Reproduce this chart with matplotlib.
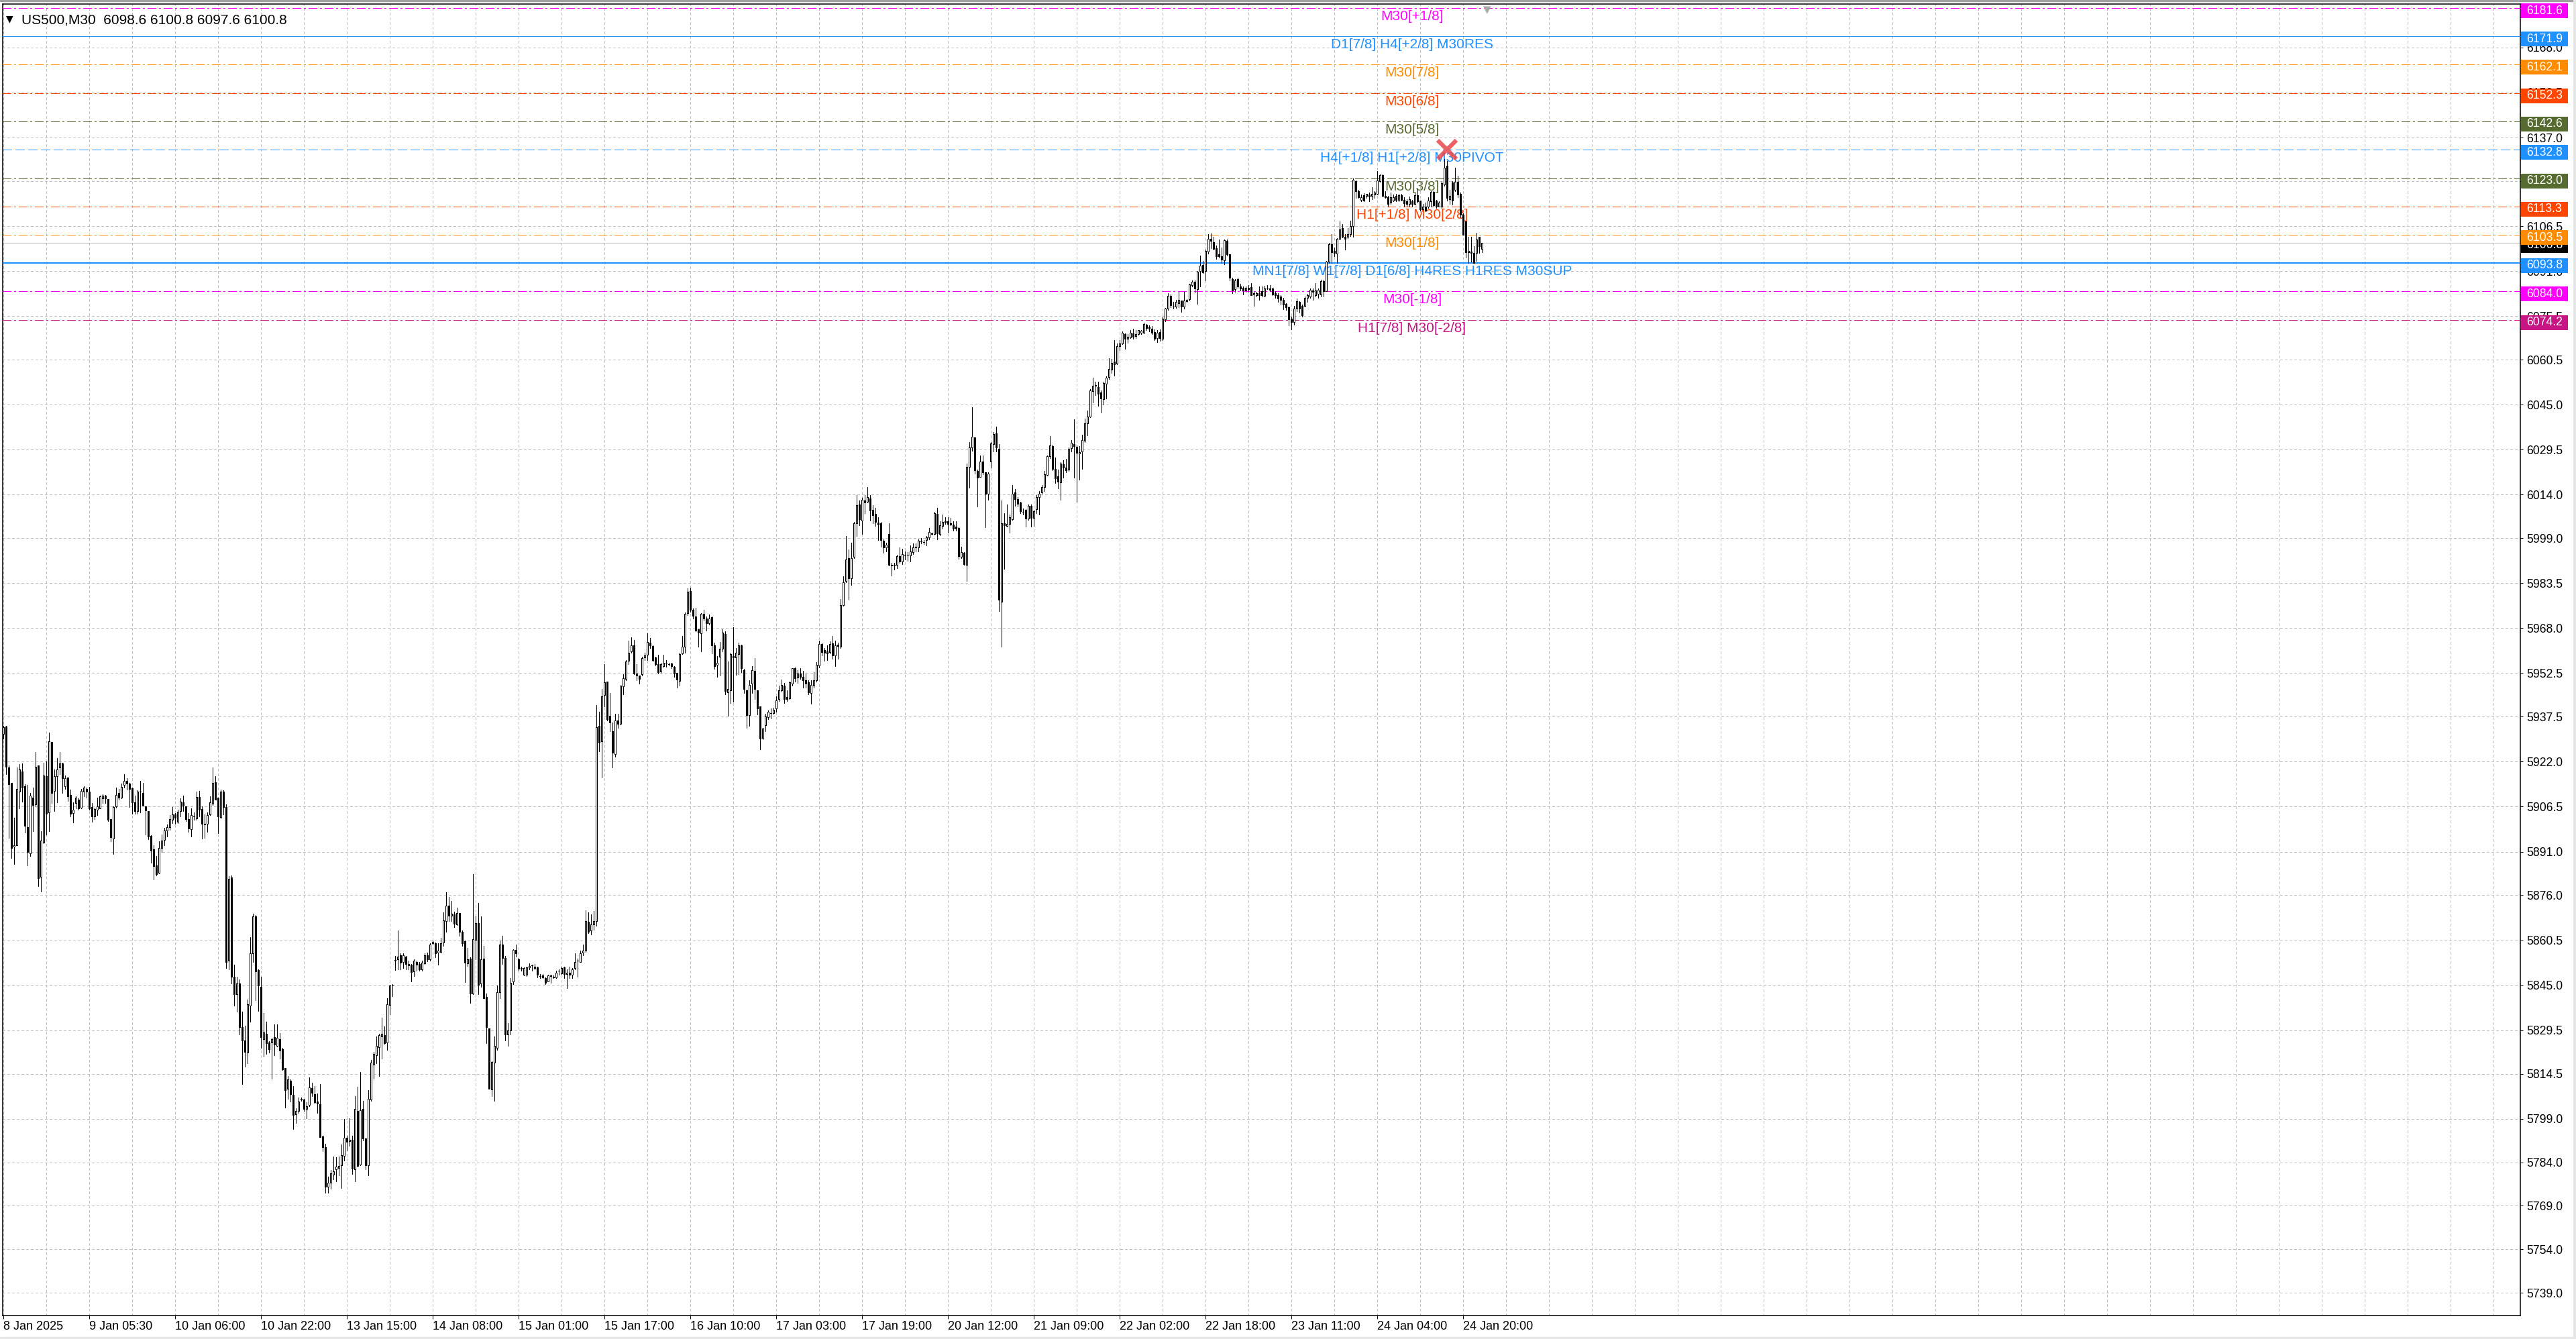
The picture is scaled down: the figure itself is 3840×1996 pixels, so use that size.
import numpy as np
import matplotlib
matplotlib.use('Agg')
import matplotlib.pyplot as plt
from matplotlib.patches import Rectangle
from matplotlib.transforms import blended_transform_factory

plt.rcParams['lines.scale_dashes'] = False

# ---- data (US500, M30 candles) ----
opens = [
    5931.6, 5934.1, 5920.0, 5914.8, 5892.7, 5893.3, 5911.6, 5918.6, 5913.6, 5899.4,
    5890.4, 5909.6, 5907.2, 5920.8, 5882.3, 5894.2, 5917.0, 5904.5, 5928.7, 5911.9,
    5917.0, 5920.0, 5921.4, 5913.5, 5916.5, 5910.6, 5904.2, 5907.7, 5909.0, 5906.2,
    5911.6, 5912.7, 5911.7, 5906.4, 5903.2, 5905.4, 5906.0, 5909.4, 5910.2, 5909.1,
    5902.3, 5895.5, 5906.7, 5911.2, 5909.5, 5913.9, 5915.4, 5914.5, 5912.9, 5908.1,
    5905.0, 5911.6, 5911.2, 5906.7, 5904.9, 5896.4, 5891.7, 5886.3, 5883.8, 5892.3,
    5895.0, 5898.2, 5899.4, 5901.9, 5903.9, 5901.2, 5904.9, 5908.1, 5906.7, 5902.1,
    5898.7, 5903.1, 5902.5, 5909.8, 5905.6, 5900.4, 5900.6, 5903.9, 5907.5, 5915.0,
    5909.5, 5902.9, 5911.6, 5906.3, 5853.5, 5882.0, 5848.0, 5842.0, 5845.5, 5830.5,
    5826.0, 5821.8, 5837.9, 5856.0, 5868.8, 5850.2, 5844.4, 5826.5, 5828.3, 5825.3,
    5825.3, 5827.0, 5824.0, 5826.5, 5823.0, 5816.4, 5809.4, 5812.2, 5807.2, 5800.6,
    5801.6, 5805.5, 5805.5, 5802.4, 5803.7, 5809.5, 5807.5, 5805.0, 5803.9, 5792.8,
    5789.3, 5775.5, 5777.0, 5779.8, 5781.5, 5782.0, 5783.0, 5786.3, 5792.4, 5791.3,
    5791.8, 5781.5, 5801.8, 5783.1, 5802.4, 5792.1, 5783.0, 5805.5, 5817.6, 5820.8,
    5823.6, 5827.3, 5827.8, 5825.3, 5838.1, 5844.9, 5853.5, 5853.8, 5855.3, 5853.0,
    5854.8, 5851.8, 5852.0, 5849.8, 5853.0, 5852.3, 5850.5, 5852.5, 5855.3, 5854.0,
    5859.5, 5859.4, 5856.2, 5856.5, 5859.8, 5867.1, 5872.3, 5868.9, 5869.3, 5865.9,
    5869.8, 5863.3, 5860.2, 5852.5, 5854.2, 5842.1, 5860.6, 5866.3, 5845.7, 5854.2,
    5840.9, 5830.0, 5809.0, 5818.3, 5823.3, 5842.6, 5859.1, 5854.4, 5828.0, 5829.5,
    5846.2, 5857.1, 5853.9, 5850.9, 5848.7, 5848.6, 5851.2, 5851.9, 5851.4, 5851.1,
    5848.1, 5848.4, 5847.4, 5846.4, 5848.1, 5847.9, 5847.7, 5849.9, 5849.1, 5851.1,
    5848.9, 5849.4, 5848.7, 5850.9, 5853.4, 5853.1, 5856.2, 5856.9, 5866.8, 5863.9,
    5866.0, 5867.2, 5934.3, 5929.1, 5944.9, 5949.6, 5937.9, 5932.6, 5924.6, 5936.1,
    5935.1, 5947.9, 5950.4, 5956.8, 5959.9, 5962.1, 5952.3, 5951.6, 5952.1, 5957.9,
    5958.9, 5963.1, 5961.9, 5957.8, 5955.6, 5953.1, 5954.8, 5955.8, 5955.6, 5955.9,
    5954.6, 5952.6, 5949.9, 5959.3, 5961.6, 5973.2, 5980.7, 5974.4, 5971.9, 5967.5,
    5966.2, 5973.0, 5971.4, 5969.7, 5971.7, 5962.1, 5955.3, 5958.1, 5960.8, 5965.9,
    5945.8, 5946.6, 5958.4, 5957.9, 5959.1, 5962.1, 5953.6, 5946.6, 5938.1, 5948.8,
    5953.2, 5946.6, 5941.1, 5930.2, 5934.6, 5937.3, 5938.7, 5938.8, 5940.4, 5943.5,
    5946.6, 5948.3, 5944.2, 5943.9, 5949.0, 5954.3, 5951.0, 5952.3, 5951.2, 5950.1,
    5949.4, 5945.7, 5948.3, 5950.1, 5955.2, 5962.5, 5960.5, 5960.0, 5959.8, 5962.8,
    5958.5, 5962.3, 5961.6, 5975.9, 5984.2, 5992.0, 5985.1, 5992.6, 6004.1, 6010.7,
    6005.0, 6012.0, 6011.6, 6012.7, 6008.7, 6007.4, 6004.3, 6004.1, 5998.1, 5995.7,
    6000.5, 5989.9, 5989.9, 5989.9, 5992.7, 5991.0, 5993.0, 5993.3, 5993.0, 5994.3,
    5995.7, 5995.9, 5997.9, 5997.7, 5998.3, 5999.2, 6000.5, 6000.4, 6007.4, 6000.5,
    6003.2, 6004.8, 6004.8, 6004.1, 6003.6, 6002.9, 6002.5, 5992.6, 5993.9, 5989.7,
    6023.6, 6030.2, 6033.7, 6022.2, 6020.0, 6025.5, 6021.6, 6014.3, 6025.3, 6031.5,
    6035.1, 6029.7, 5977.1, 6004.2, 6003.2, 6003.9, 6005.4, 6014.7, 6012.5, 6011.2,
    6007.9, 6008.7, 6005.7, 6010.2, 6005.9, 6008.9, 6013.2, 6014.7, 6016.7, 6020.7,
    6027.2, 6030.7, 6022.9, 6020.2, 6018.2, 6024.5, 6023.4, 6022.7, 6029.9, 6031.4,
    6030.5, 6028.2, 6028.9, 6032.5, 6038.5, 6040.9, 6049.6, 6051.6, 6051.1, 6049.3,
    6046.8, 6052.3, 6054.5, 6057.0, 6059.8, 6059.1, 6065.1, 6066.0, 6069.3, 6067.6,
    6068.1, 6069.6, 6068.6, 6069.3, 6069.8, 6069.8, 6072.6, 6071.8, 6071.1, 6070.0,
    6068.0, 6070.0, 6067.6, 6074.3, 6078.0, 6082.5, 6078.8, 6078.8, 6080.0, 6080.8,
    6078.8, 6080.6, 6081.3, 6086.1, 6087.3, 6084.8, 6091.1, 6093.1, 6091.1, 6097.7,
    6102.1, 6100.9, 6098.9, 6096.9, 6096.1, 6094.7, 6101.4, 6096.7, 6088.3, 6084.8,
    6088.3, 6085.8, 6085.3, 6084.3, 6085.3, 6085.5, 6083.0, 6082.8, 6083.4, 6084.2,
    6082.5, 6085.3, 6085.1, 6085.1, 6083.4, 6082.8, 6082.2, 6081.2, 6079.7, 6078.6,
    6074.5, 6073.5, 6078.0, 6080.5, 6079.1, 6079.1, 6081.7, 6082.2, 6084.3, 6082.6,
    6083.2, 6083.0, 6087.6, 6084.2, 6094.2, 6100.2, 6097.9, 6097.1, 6102.0, 6105.7,
    6102.7, 6102.7, 6103.8, 6106.4, 6122.1, 6118.5, 6115.6, 6117.2, 6116.9, 6117.3,
    6116.9, 6117.3, 6117.7, 6122.1, 6124.1, 6116.9, 6116.5, 6114.6, 6115.4, 6116.9,
    6115.6, 6117.2, 6115.6, 6115.0, 6114.2, 6115.0, 6114.2, 6117.2, 6115.2, 6112.3,
    6113.3, 6113.1, 6115.0, 6118.2, 6115.4, 6113.3, 6113.3, 6120.8, 6127.2, 6115.8,
    6121.5, 6118.9, 6121.8, 6117.7, 6110.4, 6108.1, 6097.4, 6097.7, 6097.3, 6097.3,
    6102.7, 6098.6,
]
highs = [
    5934.3, 5934.3, 5920.8, 5914.8, 5902.7, 5920.0, 5921.2, 5921.4, 5914.3, 5914.0,
    5911.2, 5913.1, 5925.4, 5920.8, 5898.1, 5921.6, 5922.0, 5932.0, 5928.7, 5919.3,
    5923.3, 5925.4, 5921.6, 5917.3, 5916.6, 5912.3, 5908.1, 5910.0, 5909.3, 5912.7,
    5913.5, 5913.1, 5913.3, 5907.7, 5906.2, 5909.6, 5910.4, 5910.8, 5910.6, 5909.1,
    5902.3, 5906.6, 5913.1, 5912.7, 5914.5, 5917.7, 5916.2, 5914.6, 5913.1, 5910.2,
    5912.2, 5915.4, 5914.8, 5906.7, 5905.0, 5896.6, 5893.1, 5889.4, 5894.6, 5896.9,
    5899.2, 5900.4, 5903.5, 5906.4, 5904.2, 5905.4, 5909.3, 5910.4, 5906.7, 5904.2,
    5905.9, 5904.6, 5911.7, 5911.9, 5906.6, 5903.9, 5904.6, 5910.0, 5920.0, 5917.1,
    5909.5, 5912.3, 5912.2, 5907.3, 5882.5, 5882.7, 5852.0, 5848.0, 5847.0, 5836.0,
    5831.0, 5840.0, 5861.6, 5869.6, 5869.1, 5850.5, 5848.0, 5835.4, 5832.4, 5825.8,
    5826.8, 5831.6, 5831.6, 5828.6, 5823.3, 5816.4, 5813.7, 5812.5, 5810.2, 5802.6,
    5806.2, 5806.2, 5805.9, 5804.7, 5813.2, 5811.5, 5810.2, 5807.7, 5810.9, 5793.1,
    5790.3, 5779.0, 5781.3, 5786.0, 5785.8, 5786.0, 5790.1, 5798.8, 5793.1, 5799.1,
    5793.1, 5806.7, 5809.9, 5815.0, 5805.2, 5792.1, 5808.9, 5819.3, 5822.0, 5827.3,
    5828.3, 5833.7, 5830.8, 5840.4, 5845.1, 5845.4, 5855.0, 5863.9, 5856.0, 5856.0,
    5855.0, 5853.5, 5852.2, 5853.8, 5853.5, 5853.0, 5853.5, 5856.0, 5856.2, 5859.4,
    5860.5, 5859.8, 5859.5, 5861.4, 5870.1, 5877.0, 5875.4, 5874.1, 5870.3, 5871.6,
    5869.8, 5863.9, 5860.5, 5857.8, 5854.5, 5883.2, 5868.6, 5873.3, 5868.6, 5858.5,
    5842.1, 5830.0, 5818.8, 5827.3, 5844.9, 5860.5, 5862.1, 5855.0, 5832.0, 5847.4,
    5857.4, 5859.1, 5854.4, 5851.4, 5851.1, 5851.4, 5852.6, 5852.1, 5852.4, 5851.4,
    5848.9, 5848.9, 5847.6, 5848.6, 5848.6, 5848.4, 5849.9, 5850.4, 5851.4, 5851.4,
    5850.4, 5851.4, 5850.9, 5855.9, 5854.1, 5856.9, 5858.9, 5870.7, 5870.0, 5869.5,
    5870.5, 5941.6, 5939.3, 5947.1, 5955.6, 5949.6, 5945.6, 5935.6, 5938.6, 5938.6,
    5948.1, 5952.1, 5957.1, 5963.6, 5964.9, 5963.9, 5955.6, 5951.6, 5958.1, 5959.6,
    5966.2, 5964.6, 5962.1, 5958.1, 5958.9, 5956.1, 5958.9, 5956.9, 5956.1, 5956.1,
    5954.9, 5952.6, 5959.6, 5965.4, 5973.4, 5981.7, 5982.0, 5974.7, 5975.0, 5967.7,
    5973.2, 5974.4, 5971.9, 5972.7, 5971.9, 5963.1, 5958.3, 5963.3, 5967.7, 5967.0,
    5956.6, 5959.6, 5968.2, 5961.1, 5962.9, 5962.3, 5953.9, 5946.9, 5950.1, 5955.0,
    5957.6, 5946.7, 5941.1, 5933.7, 5938.4, 5939.7, 5940.4, 5940.5, 5944.6, 5948.3,
    5950.3, 5949.2, 5946.6, 5949.7, 5954.3, 5954.5, 5953.6, 5954.3, 5953.2, 5952.3,
    5950.1, 5950.1, 5952.8, 5956.3, 5963.8, 5962.7, 5961.2, 5962.0, 5963.4, 5965.3,
    5963.6, 5962.9, 5978.0, 5985.9, 5999.8, 5995.1, 5997.4, 6004.5, 6013.8, 6012.0,
    6012.9, 6013.8, 6016.5, 6013.8, 6010.3, 6009.4, 6006.3, 6004.5, 5998.6, 5997.4,
    6004.1, 5990.4, 5990.4, 5993.3, 5995.9, 5995.4, 5994.5, 5994.2, 5996.6, 5997.2,
    5997.2, 5998.6, 5999.0, 5998.3, 5999.8, 6002.5, 6001.0, 6008.1, 6009.4, 6004.8,
    6007.2, 6006.3, 6006.3, 6006.0, 6004.8, 6004.8, 6002.8, 5996.1, 5994.2, 6024.6,
    6032.0, 6044.1, 6033.7, 6022.7, 6027.5, 6027.5, 6021.8, 6021.8, 6032.0, 6035.5,
    6037.3, 6031.5, 6011.9, 6007.7, 6010.5, 6007.2, 6017.2, 6015.9, 6013.2, 6011.5,
    6009.2, 6008.9, 6010.5, 6010.7, 6008.7, 6013.9, 6015.2, 6017.2, 6022.2, 6027.5,
    6034.2, 6031.2, 6026.7, 6022.7, 6025.2, 6025.9, 6026.2, 6030.2, 6032.7, 6039.9,
    6030.9, 6030.7, 6034.7, 6040.2, 6042.9, 6050.3, 6054.3, 6053.0, 6053.0, 6049.8,
    6053.0, 6054.8, 6061.0, 6060.8, 6067.3, 6066.0, 6067.3, 6070.3, 6069.6, 6069.3,
    6070.8, 6071.1, 6070.8, 6070.8, 6070.8, 6073.3, 6072.8, 6072.3, 6072.0, 6071.0,
    6070.8, 6071.0, 6075.3, 6078.3, 6083.3, 6083.0, 6080.3, 6081.0, 6083.8, 6080.8,
    6083.8, 6081.3, 6086.6, 6087.8, 6087.8, 6091.0, 6096.4, 6094.4, 6098.4, 6103.7,
    6103.9, 6102.7, 6099.9, 6101.9, 6099.1, 6101.9, 6101.9, 6096.7, 6088.6, 6088.3,
    6088.8, 6086.6, 6085.8, 6085.8, 6086.1, 6086.9, 6083.8, 6083.8, 6085.7, 6085.7,
    6085.9, 6086.1, 6086.1, 6085.3, 6084.2, 6083.4, 6082.6, 6081.8, 6079.9, 6078.8,
    6075.3, 6079.1, 6081.5, 6080.7, 6079.5, 6082.2, 6083.2, 6084.9, 6084.9, 6086.9,
    6084.9, 6088.0, 6088.0, 6094.6, 6100.7, 6103.8, 6099.2, 6102.3, 6108.1, 6107.3,
    6103.8, 6105.7, 6108.4, 6122.9, 6122.3, 6118.9, 6117.3, 6117.9, 6117.7, 6118.1,
    6120.0, 6118.5, 6125.4, 6124.4, 6124.4, 6118.5, 6116.9, 6118.1, 6117.3, 6117.7,
    6117.7, 6117.7, 6116.4, 6115.8, 6116.7, 6115.6, 6118.1, 6119.2, 6115.4, 6114.1,
    6114.6, 6116.4, 6118.5, 6118.5, 6115.6, 6115.1, 6121.9, 6129.6, 6128.9, 6118.9,
    6121.9, 6126.7, 6123.9, 6118.1, 6110.8, 6108.2, 6102.8, 6102.7, 6099.6, 6104.2,
    6102.8, 6100.8,
]
lows = [
    5930.0, 5917.7, 5895.8, 5888.8, 5886.8, 5893.1, 5906.0, 5908.3, 5897.7, 5886.2,
    5889.6, 5898.1, 5906.6, 5879.2, 5877.3, 5894.0, 5896.8, 5898.1, 5907.7, 5905.0,
    5908.1, 5917.7, 5911.2, 5912.7, 5908.5, 5903.1, 5901.0, 5905.8, 5905.4, 5905.8,
    5910.0, 5909.5, 5905.4, 5901.4, 5902.1, 5903.5, 5905.8, 5907.7, 5907.7, 5901.6,
    5894.6, 5890.2, 5906.2, 5908.9, 5909.3, 5913.1, 5912.3, 5906.4, 5904.0, 5904.0,
    5904.0, 5904.6, 5906.8, 5896.8, 5895.2, 5887.3, 5881.4, 5882.9, 5883.5, 5890.8,
    5893.2, 5896.3, 5898.5, 5900.8, 5900.6, 5900.8, 5903.1, 5905.0, 5901.6, 5897.9,
    5896.2, 5901.9, 5901.9, 5903.1, 5895.4, 5895.8, 5897.9, 5903.5, 5907.1, 5908.9,
    5897.3, 5902.5, 5903.9, 5851.0, 5850.5, 5845.5, 5838.0, 5836.0, 5828.0, 5811.0,
    5817.0, 5818.0, 5832.4, 5853.0, 5839.9, 5836.1, 5823.3, 5820.3, 5821.3, 5821.8,
    5812.7, 5820.8, 5823.8, 5819.8, 5815.7, 5802.9, 5805.9, 5804.9, 5795.4, 5797.6,
    5801.1, 5805.2, 5801.8, 5799.1, 5803.2, 5806.7, 5804.2, 5801.1, 5792.6, 5787.8,
    5773.4, 5773.6, 5774.8, 5778.0, 5777.5, 5779.5, 5775.0, 5784.5, 5788.1, 5789.6,
    5780.0, 5777.5, 5782.5, 5782.9, 5791.6, 5781.5, 5779.5, 5805.2, 5812.7, 5818.0,
    5813.7, 5819.8, 5824.8, 5822.8, 5834.9, 5841.1, 5850.2, 5850.5, 5850.5, 5851.0,
    5850.5, 5850.5, 5846.2, 5848.2, 5850.0, 5850.0, 5850.0, 5852.2, 5853.2, 5853.5,
    5859.0, 5854.5, 5852.0, 5856.2, 5858.5, 5863.3, 5867.1, 5867.1, 5865.1, 5865.6,
    5861.9, 5858.5, 5846.0, 5851.5, 5838.9, 5841.9, 5854.0, 5841.9, 5844.4, 5840.4,
    5825.0, 5809.2, 5806.7, 5805.2, 5822.6, 5840.6, 5852.4, 5826.0, 5824.0, 5828.0,
    5845.4, 5854.9, 5849.9, 5849.9, 5848.4, 5848.2, 5850.4, 5849.9, 5850.4, 5847.7,
    5847.4, 5847.4, 5845.4, 5846.2, 5845.9, 5847.4, 5847.4, 5848.7, 5848.9, 5847.4,
    5843.9, 5847.4, 5847.4, 5850.4, 5847.9, 5852.9, 5855.4, 5856.4, 5863.0, 5862.4,
    5864.0, 5865.4, 5925.6, 5916.6, 5941.1, 5936.1, 5932.6, 5920.1, 5923.6, 5933.6,
    5934.9, 5945.1, 5950.1, 5955.6, 5959.6, 5952.1, 5950.1, 5948.9, 5951.6, 5957.1,
    5957.1, 5961.1, 5956.6, 5955.1, 5952.3, 5952.6, 5954.6, 5954.6, 5955.1, 5954.1,
    5951.1, 5947.6, 5948.3, 5959.1, 5959.6, 5972.4, 5973.7, 5971.2, 5967.0, 5961.6,
    5959.9, 5970.7, 5967.2, 5969.2, 5959.3, 5953.9, 5951.3, 5951.6, 5960.1, 5945.1,
    5937.9, 5942.1, 5942.6, 5951.9, 5952.1, 5952.9, 5945.6, 5933.6, 5934.3, 5945.7,
    5943.5, 5938.2, 5926.2, 5929.7, 5932.6, 5936.6, 5936.8, 5938.4, 5939.3, 5943.0,
    5946.1, 5942.3, 5942.8, 5943.5, 5948.3, 5949.6, 5949.2, 5950.5, 5947.6, 5947.4,
    5945.2, 5942.0, 5947.4, 5949.7, 5954.5, 5958.5, 5956.7, 5957.0, 5959.4, 5957.4,
    5955.0, 5957.4, 5961.2, 5975.8, 5983.7, 5978.0, 5982.8, 5992.1, 5999.7, 6003.4,
    6000.5, 6007.6, 6011.2, 6005.0, 6004.1, 6003.2, 5998.3, 5996.1, 5993.9, 5994.4,
    5989.5, 5986.2, 5988.2, 5988.6, 5990.6, 5990.1, 5991.7, 5991.2, 5991.0, 5993.5,
    5994.5, 5994.5, 5997.2, 5997.0, 5996.6, 5998.6, 6000.1, 6000.1, 5998.5, 6000.0,
    6002.3, 6003.9, 6001.0, 6003.4, 6001.6, 6001.6, 5991.9, 5992.1, 5989.9, 5984.2,
    6016.3, 6029.0, 6021.3, 6009.8, 6020.0, 6020.9, 6002.7, 6012.2, 6023.4, 6028.9,
    6028.9, 5973.8, 5961.6, 5988.4, 6002.9, 6000.9, 6005.2, 6010.2, 6009.9, 6007.5,
    6007.2, 6002.9, 6005.2, 6002.9, 6003.2, 6007.5, 6007.2, 6014.2, 6015.2, 6020.5,
    6026.5, 6022.5, 6017.9, 6016.2, 6012.2, 6019.9, 6021.7, 6022.2, 6028.9, 6019.9,
    6011.5, 6019.2, 6022.9, 6032.2, 6034.5, 6040.7, 6045.8, 6048.3, 6044.5, 6042.3,
    6045.1, 6047.0, 6053.8, 6055.8, 6055.0, 6058.8, 6063.8, 6065.8, 6064.3, 6066.3,
    6067.8, 6067.6, 6068.0, 6069.0, 6069.3, 6069.6, 6070.8, 6070.3, 6069.3, 6067.3,
    6066.6, 6067.0, 6067.3, 6073.8, 6077.6, 6078.6, 6078.0, 6078.3, 6078.6, 6077.0,
    6078.0, 6080.3, 6080.8, 6085.8, 6083.6, 6079.8, 6085.8, 6090.3, 6087.8, 6097.1,
    6098.9, 6098.4, 6095.1, 6095.6, 6093.7, 6093.4, 6096.4, 6087.8, 6083.3, 6083.8,
    6085.3, 6084.3, 6083.0, 6083.8, 6083.8, 6082.6, 6079.1, 6082.2, 6081.1, 6082.2,
    6082.2, 6084.8, 6084.2, 6082.6, 6081.8, 6080.5, 6079.5, 6077.8, 6077.6, 6072.2,
    6071.0, 6072.6, 6077.2, 6076.8, 6075.3, 6078.8, 6080.3, 6081.7, 6081.1, 6082.2,
    6081.8, 6082.2, 6082.2, 6084.2, 6093.8, 6093.8, 6096.1, 6093.8, 6101.9, 6102.5,
    6098.4, 6102.3, 6103.0, 6102.7, 6116.2, 6116.2, 6115.0, 6115.0, 6116.2, 6115.0,
    6115.8, 6116.2, 6117.3, 6121.8, 6116.7, 6116.2, 6113.5, 6114.2, 6115.0, 6115.0,
    6115.0, 6115.2, 6113.1, 6113.1, 6113.3, 6113.3, 6113.8, 6114.6, 6111.9, 6112.1,
    6111.5, 6112.7, 6113.3, 6113.3, 6112.8, 6113.1, 6112.8, 6120.4, 6115.4, 6114.2,
    6113.8, 6118.5, 6116.5, 6109.6, 6103.4, 6095.7, 6093.8, 6094.2, 6093.8, 6094.6,
    6097.3, 6097.6,
]
closes = [
    5933.9, 5920.2, 5914.3, 5892.3, 5893.3, 5912.7, 5919.3, 5913.1, 5899.9, 5890.9,
    5910.4, 5907.1, 5920.3, 5881.9, 5894.9, 5917.2, 5904.1, 5929.1, 5911.2, 5917.1,
    5919.4, 5921.4, 5916.2, 5916.2, 5910.0, 5904.1, 5905.4, 5909.5, 5905.8, 5911.9,
    5913.0, 5911.7, 5905.8, 5903.1, 5905.6, 5906.6, 5910.0, 5910.3, 5909.4, 5901.9,
    5896.0, 5906.4, 5910.6, 5909.5, 5913.3, 5915.3, 5914.4, 5912.5, 5908.1, 5905.0,
    5911.7, 5911.7, 5906.9, 5905.2, 5896.2, 5891.3, 5886.0, 5883.3, 5892.3, 5894.8,
    5898.2, 5899.4, 5902.2, 5903.9, 5902.7, 5904.8, 5908.3, 5906.8, 5902.1, 5898.9,
    5903.7, 5903.2, 5909.8, 5905.4, 5900.6, 5900.6, 5903.7, 5908.1, 5914.8, 5908.9,
    5903.1, 5911.6, 5906.3, 5853.0, 5881.7, 5848.0, 5842.0, 5845.5, 5830.5, 5826.0,
    5822.0, 5838.4, 5856.0, 5868.6, 5849.8, 5844.9, 5827.0, 5828.8, 5825.0, 5823.0,
    5826.5, 5824.5, 5826.8, 5822.5, 5816.0, 5808.9, 5812.5, 5807.4, 5800.4, 5801.6,
    5805.0, 5805.9, 5802.4, 5803.4, 5809.7, 5808.0, 5804.7, 5804.2, 5792.6, 5789.1,
    5775.5, 5777.0, 5780.2, 5780.8, 5782.5, 5782.7, 5786.5, 5792.4, 5791.1, 5791.8,
    5781.7, 5802.4, 5782.7, 5801.9, 5792.1, 5783.0, 5805.9, 5818.3, 5821.3, 5824.0,
    5827.8, 5828.3, 5825.0, 5838.4, 5844.9, 5845.0, 5853.6, 5854.8, 5852.8, 5855.3,
    5852.2, 5852.3, 5849.5, 5853.5, 5852.0, 5850.5, 5852.8, 5855.3, 5853.8, 5859.0,
    5860.0, 5856.0, 5857.0, 5859.5, 5867.4, 5872.4, 5868.9, 5869.6, 5866.1, 5869.9,
    5863.3, 5859.5, 5852.8, 5854.0, 5842.1, 5860.9, 5866.4, 5845.1, 5853.8, 5840.4,
    5830.6, 5809.4, 5818.6, 5824.0, 5842.6, 5859.0, 5854.4, 5828.0, 5829.5, 5845.9,
    5857.1, 5855.9, 5850.7, 5850.7, 5850.9, 5851.1, 5851.7, 5851.9, 5850.9, 5848.6,
    5848.1, 5847.7, 5845.9, 5848.4, 5848.4, 5847.6, 5849.4, 5849.9, 5850.9, 5848.9,
    5849.4, 5848.7, 5850.4, 5852.9, 5853.4, 5856.1, 5856.9, 5867.2, 5863.5, 5865.9,
    5867.0, 5933.9, 5928.6, 5944.6, 5949.3, 5936.6, 5935.6, 5925.1, 5936.1, 5935.1,
    5948.1, 5950.8, 5956.6, 5959.6, 5962.1, 5952.3, 5951.6, 5950.6, 5957.6, 5958.6,
    5963.3, 5962.1, 5957.1, 5955.6, 5952.9, 5955.6, 5956.1, 5955.9, 5955.6, 5954.9,
    5952.3, 5950.3, 5959.1, 5961.6, 5972.9, 5980.5, 5974.4, 5972.2, 5967.2, 5966.4,
    5972.9, 5971.4, 5969.7, 5971.2, 5962.1, 5954.9, 5956.1, 5960.8, 5966.4, 5946.3,
    5947.1, 5959.1, 5957.9, 5959.6, 5962.1, 5954.1, 5947.1, 5938.1, 5948.5, 5953.6,
    5947.0, 5940.4, 5929.9, 5933.3, 5937.5, 5939.3, 5938.8, 5939.9, 5943.2, 5946.6,
    5948.5, 5943.5, 5943.5, 5949.4, 5954.1, 5950.8, 5952.3, 5951.2, 5950.1, 5949.0,
    5945.8, 5948.5, 5950.1, 5955.4, 5962.5, 5959.8, 5959.6, 5959.4, 5962.5, 5958.5,
    5962.0, 5961.8, 5975.9, 5983.7, 5991.7, 5985.1, 5992.1, 6004.1, 6010.3, 6005.4,
    6012.2, 6011.3, 6013.1, 6008.5, 6006.9, 6004.5, 6003.6, 5998.3, 5995.9, 5996.7,
    5989.9, 5989.5, 5989.5, 5992.8, 5991.0, 5993.5, 5993.1, 5993.3, 5994.5, 5995.7,
    5996.1, 5998.1, 5997.9, 5997.7, 5999.2, 6001.2, 6000.6, 6007.6, 6000.7, 6003.4,
    6004.5, 6004.3, 6003.9, 6003.6, 6002.3, 6002.3, 5992.8, 5994.3, 5990.1, 6023.6,
    6030.2, 6034.0, 6022.5, 6019.8, 6025.5, 6021.8, 6014.3, 6021.3, 6031.7, 6034.9,
    6030.2, 5977.8, 6004.2, 6003.5, 6004.0, 6006.2, 6014.4, 6012.5, 6010.9, 6008.2,
    6007.9, 6005.7, 6010.2, 6005.9, 6008.2, 6013.2, 6014.4, 6016.7, 6021.0, 6027.2,
    6030.9, 6022.9, 6019.5, 6018.5, 6024.7, 6023.4, 6022.5, 6029.7, 6031.9, 6030.7,
    6028.5, 6028.7, 6032.9, 6038.5, 6040.9, 6049.8, 6051.6, 6051.8, 6048.8, 6047.0,
    6052.5, 6054.3, 6057.3, 6059.3, 6059.0, 6065.1, 6066.0, 6069.8, 6067.6, 6068.3,
    6069.8, 6068.3, 6069.3, 6070.6, 6070.5, 6072.8, 6071.3, 6071.1, 6069.8, 6067.6,
    6069.8, 6068.0, 6074.5, 6078.0, 6082.5, 6079.3, 6078.8, 6080.3, 6081.0, 6078.8,
    6080.8, 6081.0, 6086.3, 6087.3, 6085.0, 6090.9, 6092.9, 6090.6, 6097.9, 6102.1,
    6101.4, 6098.7, 6096.1, 6096.1, 6094.9, 6101.6, 6096.7, 6088.6, 6084.3, 6087.8,
    6085.8, 6085.0, 6084.3, 6085.3, 6084.8, 6082.8, 6083.4, 6083.4, 6082.6, 6082.6,
    6085.1, 6085.3, 6084.5, 6083.0, 6082.6, 6081.5, 6081.1, 6079.5, 6078.6, 6074.3,
    6073.4, 6078.0, 6080.7, 6078.0, 6075.7, 6081.7, 6082.6, 6084.5, 6083.8, 6084.3,
    6084.5, 6087.6, 6084.2, 6094.2, 6100.3, 6097.4, 6097.3, 6102.0, 6105.4, 6102.7,
    6102.0, 6103.8, 6106.5, 6122.5, 6118.5, 6116.5, 6116.4, 6115.4, 6117.5, 6116.7,
    6117.5, 6118.1, 6122.3, 6124.1, 6116.9, 6116.5, 6114.2, 6116.4, 6116.5, 6115.6,
    6117.2, 6115.6, 6114.4, 6114.2, 6115.8, 6114.2, 6117.2, 6115.0, 6112.3, 6113.1,
    6111.9, 6115.4, 6118.2, 6113.6, 6113.3, 6114.6, 6121.3, 6126.6, 6116.2, 6116.9,
    6115.4, 6121.8, 6117.3, 6110.4, 6103.4, 6097.6, 6097.9, 6097.3, 6093.8, 6101.9,
    6099.6, 6100.8,
]

time_labels = ['8 Jan 2025', '9 Jan 05:30', '10 Jan 06:00', '10 Jan 22:00', '13 Jan 15:00',
               '14 Jan 08:00', '15 Jan 01:00', '15 Jan 17:00', '16 Jan 10:00', '17 Jan 03:00',
               '17 Jan 19:00', '20 Jan 12:00', '21 Jan 09:00', '22 Jan 02:00', '22 Jan 18:00',
               '23 Jan 11:00', '24 Jan 04:00', '24 Jan 20:00']
price_ticks = [5739.0, 5754.0, 5769.0, 5784.0, 5799.0, 5814.5, 5829.5, 5845.0, 5860.5, 5876.0,
               5891.0, 5906.5, 5922.0, 5937.5, 5952.5, 5968.0, 5983.5, 5999.0, 6014.0, 6029.5,
               6045.0, 6060.5, 6075.5, 6091.0, 6106.5, 6122.0, 6137.0, 6152.5, 6168.0]

level_prices = [6181.6, 6171.9, 6162.1, 6152.3, 6142.6, 6132.8,
                6123.0, 6113.3, 6103.5, 6093.8, 6084.0, 6074.2]
level_names = ['M30[+1/8]', 'D1[7/8] H4[+2/8] M30RES', 'M30[7/8]', 'M30[6/8]', 'M30[5/8]',
               'H4[+1/8] H1[+2/8] M30PIVOT', 'M30[3/8]', 'H1[+1/8] M30[2/8]', 'M30[1/8]',
               'MN1[7/8] W1[7/8] D1[6/8] H4RES H1RES M30SUP', 'M30[-1/8]', 'H1[7/8] M30[-2/8]']

symbol = 'US500,M30'
bid_price = 6100.8
signal_bar, signal_price = 538, 6132.8

# ---- styles ----
level_colors = ['#FF00FF', '#1E90FF', '#FF8C00', '#FF4500', '#556B2F', '#1E90FF',
                '#556B2F', '#FF4500', '#FF8C00', '#1E90FF', '#FF00FF', '#C71585']
DD = (0, (9, 2.9, 1.5, 2.9))
level_styles = [DD, '-', DD, DD, DD, (0, (10, 4.3)), DD, DD, DD, '-', DD, DD]
level_widths = [0.7, 0.7, 0.7, 0.7, 0.7, 0.7, 0.7, 0.7, 0.7, 1.44, 0.7, 0.7]

W, H = 3840, 1996
AX_L, AX_R, AX_T, AX_B = 4, 3757, 6, 1961
AW, AH = AX_R - AX_L, AX_B - AX_T
SANS = ['Liberation Sans', 'DejaVu Sans']
PX = 0.72  # one screen pixel in points

fig = plt.figure(figsize=(W / 100, H / 100), dpi=100)
fig.patch.set_facecolor('white')
ax = fig.add_axes([AX_L / W, (H - AX_B) / H, AW / W, AH / H])

o = np.array(opens)
hi = np.array(highs)
lo = np.array(lows)
c = np.array(closes)
x = np.arange(len(c))
up = c >= o

ax.vlines(x, lo, hi, color='black', lw=0.7, zorder=6, antialiased=False)
ax.bar(x, np.abs(c - o), width=0.5, bottom=np.minimum(o, c),
       color=np.where(up, 'white', 'black'), edgecolor='black', linewidth=0.7,
       zorder=7, antialiased=False)

ymin, ymax = 5731.2, 6183.0
ax.set_xlim(-0.25, 938)
ax.set_ylim(ymin, ymax)

# axes / grid
for s in ax.spines.values():
    s.set_color('black')
    s.set_linewidth(1.1)
ax.yaxis.tick_right()
ax.set_yticks(price_ticks)
ax.set_yticklabels([f'{v:.1f}' for v in price_ticks], fontsize=12.7, family=SANS)
ax.tick_params(axis='y', length=3, width=PX, pad=3.5, colors='black')

major_x = list(range(0, 32 * len(time_labels), 32))
ax.set_xticks(major_x)
ax.set_xticklabels(time_labels, ha='left', fontsize=13, family=SANS)
ax.set_xticks([m for m in range(0, 939, 16) if m not in major_x], minor=True)
ax.tick_params(axis='x', which='major', length=3.5, width=PX, pad=2.5)
ax.tick_params(axis='x', which='minor', length=0)
ax.grid(True, which='both', color='#C0C0C0', linestyle=(0, (2.2, 2.2)), lw=0.7,
        zorder=0.5, antialiased=False)
ax.set_axisbelow(True)

# levels
ax.axhline(bid_price, color='#C0C0C0', lw=0.7, zorder=2.5, antialiased=False)
for p, name, col, ls, lw in zip(level_prices, level_names, level_colors, level_styles, level_widths):
    ax.axhline(p, color=col, ls=ls, lw=lw, zorder=3, antialiased=False)
    ax.annotate(name, xy=(525, p), xytext=(0, -2.2), textcoords='offset points',
                ha='center', va='top', color=col, fontsize=15, family=SANS, zorder=4)

# price boxes on the right scale (sit a few pixels below their line, as in MT4)
trans = blended_transform_factory(ax.transAxes, ax.transData)
px = (ymax - ymin) / AH
box_h = 22 * px
box_shift = 4 * px
box_items = [(bid_price, 'black')] + list(zip(level_prices, level_colors))
for k, (p, col) in enumerate(box_items):
    yc = p - box_shift
    ax.add_patch(Rectangle((1 + 1 / AW, yc - box_h / 2), 70 / AW, box_h, transform=trans,
                           facecolor=col, edgecolor='none', clip_on=False, zorder=10 + k * 0.01))
    ax.annotate(f'{p:.1f}', xy=(1, yc), xycoords=trans, xytext=(9, 0), textcoords='offset pixels',
                ha='left', va='center', color='white', fontsize=12.7, family=SANS,
                annotation_clip=False, zorder=10.005 + k * 0.01)

# signal cross and chart shift marker
ax.plot(signal_bar, signal_price, marker='x', ms=20, mew=4.5, color='#E8474C',
        alpha=0.85, zorder=8, clip_on=False)
ax.annotate('\u25BC', xy=(len(c) + 1, 1.0), xycoords=('data', 'axes fraction'),
            xytext=(0, -0.5), textcoords='offset points', ha='center', va='top',
            color='#A9A9A9', fontsize=11, family='DejaVu Sans', annotation_clip=False, zorder=9)

# header
fig.text(9 / W, 1 - 28 / H, '\u25BC', fontsize=10, family='DejaVu Sans', va='center', ha='left')
fig.text(32 / W, 1 - 30 / H,
         f'{symbol}  {opens[-1]:.1f} {highs[-1]:.1f} {lows[-1]:.1f} {closes[-1]:.1f}',
         fontsize=15, family=['Liberation Sans Narrow', 'Liberation Sans', 'DejaVu Sans'],
         va='center', ha='left')

# window frame
fig.add_artist(Rectangle((0, 1 - 2 / H), 1, 2 / H, transform=fig.transFigure,
                         color='#A0A0A0', zorder=20))
fig.add_artist(Rectangle((0, 0), 1, 3 / H, transform=fig.transFigure,
                         color='#E6E6E6', zorder=20))
fig.add_artist(Rectangle((1 - 4 / W, 0), 4 / W, 1, transform=fig.transFigure,
                         color='#E6E6E6', zorder=20))

fig.savefig('out.png', dpi=100)
